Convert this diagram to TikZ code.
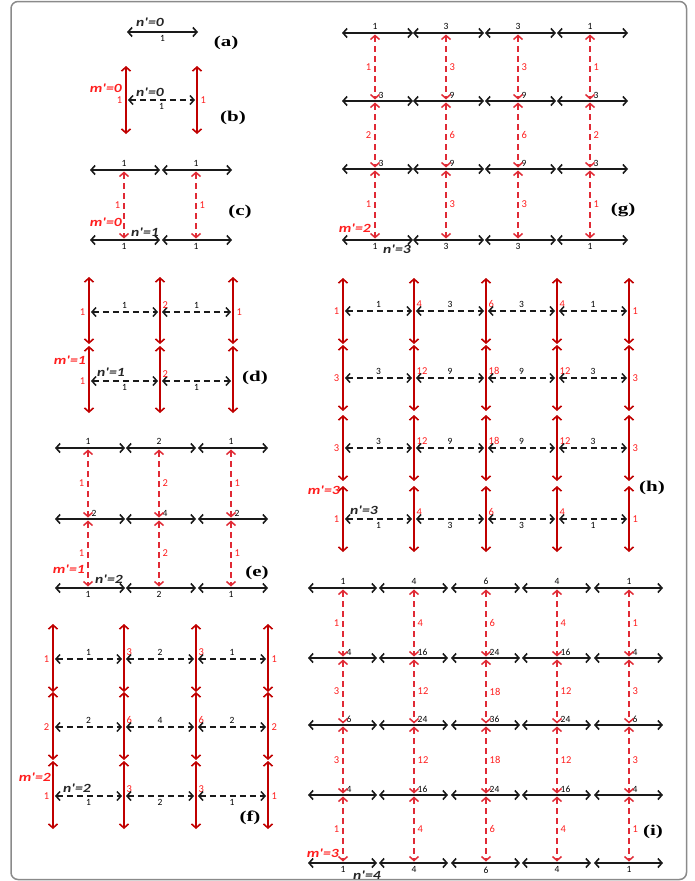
\documentclass[tikz,border=0pt]{standalone}
\usepackage{fontspec}
\setmainfont{Carlito}
\newfontfamily\tagfont[FakeStretch=1.4]{Liberation Serif}
\newfontfamily\idxfont[FakeStretch=1.25]{Carlito}
\usepackage{xcolor}
\usepackage{tikz}
\usetikzlibrary{arrows.meta,calc}
\definecolor{cLine}{HTML}{1A1A1A}
\definecolor{cRed}{HTML}{C00000}
\definecolor{cRedD}{HTML}{E02A35}
\definecolor{cTxt}{HTML}{FF1E1E}
\definecolor{cFrame}{HTML}{8A8A8A}

\begin{document}
\begin{tikzpicture}[
    x=1pt, y=-1pt,
    >={Straight Barb[length=4pt,width=9pt]},
    hln/.style={draw=cLine, line width=1.6pt, <->},
    hdash/.style={draw=cLine, line width=1.5pt, <->, dash pattern=on 6pt off 4pt,
                  shorten <=2pt, shorten >=2pt},
    vln/.style={draw=cRed, line width=1.6pt, <->},
    vdash/.style={draw=cRedD, line width=1.5pt, <->, dash pattern=on 6pt off 4pt,
                  shorten <=1.5pt, shorten >=1.5pt},
    num/.style={font=\fontsize{9.5}{9.5}\selectfont, text=black, inner sep=0.5pt},
    rnum/.style={font=\fontsize{10.5}{10.5}\selectfont, text=cTxt, inner sep=0.5pt},
    nlab/.style={font=\idxfont\fontsize{12.5}{12.5}\selectfont\bfseries\itshape,
                 text=black!85, inner sep=0pt},
    mlab/.style={nlab, text=cTxt},
    tag/.style={font=\tagfont\fontsize{15}{15}\selectfont\bfseries, inner sep=0pt}
]
\useasboundingbox (0,0) rectangle (694,881);
\draw[cFrame, line width=1.5pt, rounded corners=7pt] (11,1.5) rectangle (686.5,879.5);

% --- (a) ---
\coordinate (a0) at (127,32);
\coordinate (a1) at (198,32);
\draw[hln] (a0) -- (a1);
\node[nlab, anchor=west] (a-n) at (136,22) {n'=0};
\node[num, anchor=north] (a-v) at ($(a0)!0.5!(a1)+(0,3)$) {1};
\node[tag] (a-tag) at (226,43) {(a)};

% --- (b) ---
\foreach \x [count=\j] in {126,197} {
  \coordinate (b-\j) at (\x,100);
  \coordinate (b-t\j) at (\x,66);
  \coordinate (b-b\j) at (\x,134);
  \draw[vln] (b-t\j) -- (b-b\j);
}
\draw[hdash] (b-1) -- (b-2);
\node[rnum, anchor=east] (b-r1) at ($(b-1)+(-3,0)$) {1};
\node[rnum, anchor=west] (b-r2) at ($(b-2)+(3,0)$) {1};
\node[num, anchor=north] (b-v) at ($(b-1)!0.5!(b-2)+(0,3)$) {1};
\node[mlab, anchor=east] (b-m) at (122,88) {m'=0};
\node[nlab, anchor=west] (b-n) at (136,92) {n'=0};
\node[tag] (b-tag) at (233,118) {(b)};

% --- (c) ---
\foreach \y/\bv [count=\i] in {170/{1,1},240/{1,1}} {
  \foreach \v [count=\j] in \bv {
    \pgfmathtruncatemacro\x{124+72*(\j-1)}
    \coordinate (c-\i-\j) at (\x,\y);
    \coordinate (c-l\i-\j) at (\x-34,\y);
    \coordinate (c-e\i-\j) at (\x+36,\y);
    \draw[hln] (c-l\i-\j) -- (c-e\i-\j);
    \ifnum\i=1 \node[num, anchor=south] (c-n\i-\j) at ($(c-\i-\j)+(0,-3)$) {\v};
    \else \node[num, anchor=north] (c-n\i-\j) at ($(c-\i-\j)+(0,3)$) {\v};
    \fi
  }
}
\draw[vdash] (c-1-1) -- (c-2-1);
\draw[vdash] (c-1-2) -- (c-2-2);
\node[rnum, anchor=east] (c-r1) at ($(c-1-1)!0.5!(c-2-1)+(-3,0)$) {1};
\node[rnum, anchor=west] (c-r2) at ($(c-1-2)!0.5!(c-2-2)+(3,0)$) {1};
\node[mlab, anchor=east] (c-m) at (122,222) {m'=0};
\node[nlab, anchor=west] (c-n) at (131,232) {n'=1};
\node[tag] (c-tag) at (240,212) {(c)};

% --- (d) ---
\foreach \y [count=\i] in {312,381} {
  \foreach \x [count=\j] in {89,160,233} {
    \coordinate (d-\i-\j) at (\x,\y);
    \coordinate (d-t\i-\j) at (\x,\y-35);
    \coordinate (d-b\i-\j) at (\x,\y+32);
    \draw[vln] (d-t\i-\j) -- (d-b\i-\j);
  }
  \draw[hdash] (d-\i-1) -- (d-\i-2);
  \draw[hdash] (d-\i-2) -- (d-\i-3);
}
\node[rnum, anchor=east] (d-r11) at ($(d-1-1)+(-3,0)$) {1};
\node[rnum, anchor=south west] (d-r12) at ($(d-1-2)+(2,-3)$) {2};
\node[rnum, anchor=west] (d-r13) at ($(d-1-3)+(3,0)$) {1};
\node[rnum, anchor=east] (d-r21) at ($(d-2-1)+(-3,0)$) {1};
\node[rnum, anchor=south west] (d-r22) at ($(d-2-2)+(2,-3)$) {2};
\node[num, anchor=south] (d-v11) at ($(d-1-1)!0.5!(d-1-2)+(0,-3)$) {1};
\node[num, anchor=south] (d-v12) at ($(d-1-2)!0.5!(d-1-3)+(0,-3)$) {1};
\node[num, anchor=north] (d-v21) at ($(d-2-1)!0.5!(d-2-2)+(0,3)$) {1};
\node[num, anchor=north] (d-v22) at ($(d-2-2)!0.5!(d-2-3)+(0,3)$) {1};
\node[mlab, anchor=east] (d-m) at (86,360) {m'=1};
\node[nlab, anchor=west] (d-n) at (97,372) {n'=1};
\node[tag] (d-tag) at (255,378) {(d)};

% --- (e) ---
\foreach \y/\bv [count=\i] in {448/{1,2,1},519/{2,4,2},588/{1,2,1}} {
  \foreach \v [count=\j] in \bv {
    \pgfmathtruncatemacro\x{88+71.5*(\j-1)}
    \coordinate (e-\i-\j) at (\x,\y);
    \coordinate (e-l\i-\j) at (\x-33,\y);
    \coordinate (e-e\i-\j) at (\x+37,\y);
    \draw[hln] (e-l\i-\j) -- (e-e\i-\j);
    \ifnum\i=1 \node[num, anchor=south] (e-n\i-\j) at ($(e-\i-\j)+(0,-3)$) {\v};
    \else\ifnum\i=3 \node[num, anchor=north] (e-n\i-\j) at ($(e-\i-\j)+(0,3)$) {\v};
    \else \node[num, anchor=south west] (e-n\i-\j) at ($(e-\i-\j)+(3,-2)$) {\v};
    \fi\fi
  }
}
\foreach \rv [count=\i] in {{1,2,1},{1,2,1}} {
  \pgfmathtruncatemacro\k{\i+1}
  \foreach \v [count=\j] in \rv {
    \draw[vdash] (e-\i-\j) -- (e-\k-\j);
    \ifnum\j=1 \node[rnum, anchor=east] (e-r\i-\j) at ($(e-\i-\j)!0.5!(e-\k-\j)+(-3,0)$) {\v};
    \else \node[rnum, anchor=west] (e-r\i-\j) at ($(e-\i-\j)!0.5!(e-\k-\j)+(3,0)$) {\v};
    \fi
  }
}
\node[mlab, anchor=east] (e-m) at (85,569) {m'=1};
\node[nlab, anchor=west] (e-n) at (95,579) {n'=2};
\node[tag] (e-tag) at (257,573) {(e)};

% --- (f) ---
\foreach \y/\rv/\bv [count=\i] in {659/{1,3,3,1}/{1,2,1},727/{2,6,6,2}/{2,4,2},796/{1,3,3,1}/{1,2,1}} {
  \foreach \v [count=\j] in \rv {
    \pgfmathtruncatemacro\x{53+71.7*(\j-1)}
    \coordinate (f-\i-\j) at (\x,\y);
    \coordinate (f-t\i-\j) at (\x,\y-35);
    \coordinate (f-b\i-\j) at (\x,\y+33);
    \draw[vln] (f-t\i-\j) -- (f-b\i-\j);
    \ifnum\j=1 \node[rnum, anchor=east] (f-r\i-\j) at ($(f-\i-\j)+(-3,0)$) {\v};
    \else\ifnum\j=4 \node[rnum, anchor=west] (f-r\i-\j) at ($(f-\i-\j)+(3,0)$) {\v};
    \else \node[rnum, anchor=south west] (f-r\i-\j) at ($(f-\i-\j)+(2,-3)$) {\v};
    \fi\fi
  }
  \foreach \v [count=\j] in \bv {
    \pgfmathtruncatemacro\k{\j+1}
    \draw[hdash] (f-\i-\j) -- (f-\i-\k);
    \ifnum\i=3 \node[num, anchor=north] (f-d\i-\j) at ($(f-\i-\j)!0.5!(f-\i-\k)+(0,3)$) {\v};
    \else \node[num, anchor=south] (f-d\i-\j) at ($(f-\i-\j)!0.5!(f-\i-\k)+(0,-3)$) {\v};
    \fi
  }
}
\node[mlab, anchor=east] (f-m) at (51,777) {m'=2};
\node[nlab, anchor=west] (f-n) at (63,788) {n'=2};
\node[tag] (f-tag) at (250,818) {(f)};

% --- (g) ---
\foreach \y/\bv [count=\i] in {33/{1,3,3,1},101/{3,9,9,3},169/{3,9,9,3},240/{1,3,3,1}} {
  \foreach \v [count=\j] in \bv {
    \pgfmathtruncatemacro\x{375+71.7*(\j-1)}
    \coordinate (g-\i-\j) at (\x,\y);
    \coordinate (g-l\i-\j) at (\x-33,\y);
    \coordinate (g-e\i-\j) at (\x+38,\y);
    \draw[hln] (g-l\i-\j) -- (g-e\i-\j);
    \ifnum\i=1 \node[num, anchor=south] (g-n\i-\j) at ($(g-\i-\j)+(0,-3)$) {\v};
    \else\ifnum\i=4 \node[num, anchor=north] (g-n\i-\j) at ($(g-\i-\j)+(0,3)$) {\v};
    \else \node[num, anchor=south west] (g-n\i-\j) at ($(g-\i-\j)+(3,-2)$) {\v};
    \fi\fi
  }
}
\foreach \rv [count=\i] in {{1,3,3,1},{2,6,6,2},{1,3,3,1}} {
  \pgfmathtruncatemacro\k{\i+1}
  \foreach \v [count=\j] in \rv {
    \draw[vdash] (g-\i-\j) -- (g-\k-\j);
    \ifnum\j=1 \node[rnum, anchor=east] (g-r\i-\j) at ($(g-\i-\j)!0.5!(g-\k-\j)+(-3,0)$) {\v};
    \else \node[rnum, anchor=west] (g-r\i-\j) at ($(g-\i-\j)!0.5!(g-\k-\j)+(3,0)$) {\v};
    \fi
  }
}
\node[mlab, anchor=east] (g-m) at (371,228) {m'=2};
\node[nlab, anchor=west] (g-n) at (383,249) {n'=3};
\node[tag] (g-tag) at (623,210) {(g)};

% --- (h) ---
\foreach \y/\rv/\bv [count=\i] in {311/{1,4,6,4,1}/{1,3,3,1},378/{3,12,18,12,3}/{3,9,9,3},448/{3,12,18,12,3}/{3,9,9,3},519/{1,4,6,4,1}/{1,3,3,1}} {
  \foreach \v [count=\j] in \rv {
    \pgfmathtruncatemacro\x{343+71.5*(\j-1)}
    \coordinate (h-\i-\j) at (\x,\y);
    \coordinate (h-t\i-\j) at (\x,\y-33);
    \coordinate (h-b\i-\j) at (\x,\y+33);
    \draw[vln] (h-t\i-\j) -- (h-b\i-\j);
    \ifnum\j=1 \node[rnum, anchor=east] (h-r\i-\j) at ($(h-\i-\j)+(-3,0)$) {\v};
    \else\ifnum\j=5 \node[rnum, anchor=west] (h-r\i-\j) at ($(h-\i-\j)+(3,0)$) {\v};
    \else \node[rnum, anchor=south west] (h-r\i-\j) at ($(h-\i-\j)+(2,-3)$) {\v};
    \fi\fi
  }
  \foreach \v [count=\j] in \bv {
    \pgfmathtruncatemacro\k{\j+1}
    \draw[hdash] (h-\i-\j) -- (h-\i-\k);
    \ifnum\i=4 \node[num, anchor=north] (h-d\i-\j) at ($(h-\i-\j)!0.5!(h-\i-\k)+(0,3)$) {\v};
    \else \node[num, anchor=south] (h-d\i-\j) at ($(h-\i-\j)!0.5!(h-\i-\k)+(0,-3)$) {\v};
    \fi
  }
}
\node[mlab, anchor=east] (h-m) at (340,490) {m'=3};
\node[nlab, anchor=west] (h-n) at (350,510) {n'=3};
\node[tag] (h-tag) at (652,488) {(h)};

% --- (i) ---
\foreach \y/\bv [count=\i] in {588/{1,4,6,4,1},658/{4,16,24,16,4},725/{6,24,36,24,6},795/{4,16,24,16,4},863/{1,4,6,4,1}} {
  \foreach \v [count=\j] in \bv {
    \pgfmathtruncatemacro\x{343+71.5*(\j-1)}
    \coordinate (i-\i-\j) at (\x,\y);
    \coordinate (i-l\i-\j) at (\x-35,\y);
    \coordinate (i-e\i-\j) at (\x+34,\y);
    \draw[hln] (i-l\i-\j) -- (i-e\i-\j);
    \ifnum\i=1 \node[num, anchor=south] (i-n\i-\j) at ($(i-\i-\j)+(0,-3)$) {\v};
    \else\ifnum\i=5 \node[num, anchor=north] (i-n\i-\j) at ($(i-\i-\j)+(0,3)$) {\v};
    \else \node[num, anchor=south west] (i-n\i-\j) at ($(i-\i-\j)+(3,-2)$) {\v};
    \fi\fi
  }
}
\foreach \rv [count=\i] in {{1,4,6,4,1},{3,12,18,12,3},{3,12,18,12,3},{1,4,6,4,1}} {
  \pgfmathtruncatemacro\k{\i+1}
  \foreach \v [count=\j] in \rv {
    \draw[vdash] (i-\i-\j) -- (i-\k-\j);
    \ifnum\j=1 \node[rnum, anchor=east] (i-r\i-\j) at ($(i-\i-\j)!0.5!(i-\k-\j)+(-3,0)$) {\v};
    \else \node[rnum, anchor=west] (i-r\i-\j) at ($(i-\i-\j)!0.5!(i-\k-\j)+(3,0)$) {\v};
    \fi
  }
}
\node[mlab, anchor=east] (i-m) at (339,853) {m'=3};
\node[nlab, anchor=west] (i-n) at (353,875) {n'=4};
\node[tag] (i-tag) at (653,832) {(i)};

\end{tikzpicture}
\end{document}
